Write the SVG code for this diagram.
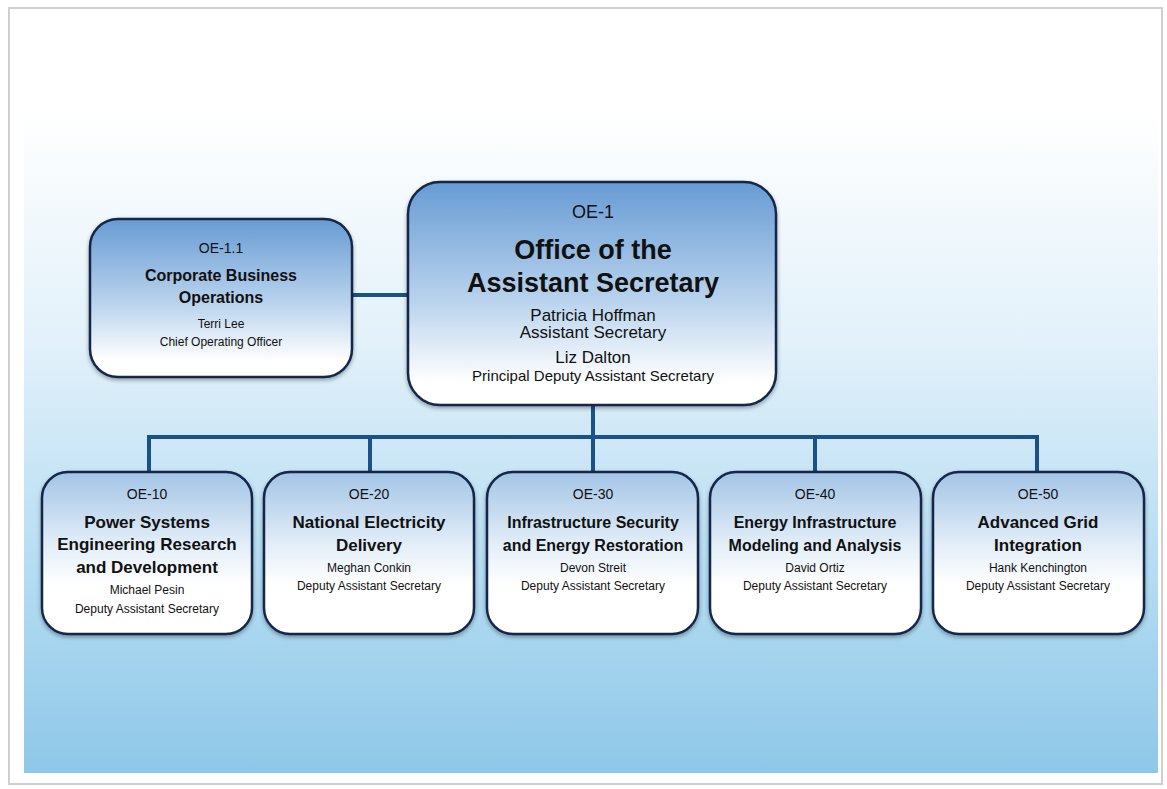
<svg xmlns="http://www.w3.org/2000/svg" width="1167" height="789" viewBox="0 0 1167 789">
<defs>
<linearGradient id="bg" x1="0" y1="0" x2="0" y2="1">
<stop offset="0" stop-color="#ffffff"/>
<stop offset="0.35" stop-color="#e2f1fa"/>
<stop offset="0.7" stop-color="#b4dcf2"/>
<stop offset="1" stop-color="#8ec7e8"/>
</linearGradient>
<linearGradient id="gTop" x1="0" y1="0" x2="0" y2="1">
<stop offset="0" stop-color="#679bd4"/>
<stop offset="0.55" stop-color="#bcd5ee"/>
<stop offset="0.9" stop-color="#ffffff"/>
</linearGradient>
<linearGradient id="gSub" x1="0" y1="0" x2="0" y2="1">
<stop offset="0" stop-color="#a3c4e6"/>
<stop offset="0.45" stop-color="#e3eef8"/>
<stop offset="0.7" stop-color="#ffffff"/>
</linearGradient>
<filter id="sh" x="-10%" y="-10%" width="120%" height="125%">
<feGaussianBlur in="SourceAlpha" stdDeviation="2"/>
<feOffset dx="0" dy="2" result="b"/>
<feComponentTransfer><feFuncA type="linear" slope="0.35"/></feComponentTransfer>
<feMerge><feMergeNode/><feMergeNode in="SourceGraphic"/></feMerge>
</filter>
</defs>
<style>
.box{stroke:#14284a;stroke-width:2.5}
.con{fill:none;stroke:#1b5186;stroke-width:4}
text{font-family:"Liberation Sans",Arial,sans-serif;fill:#111;text-anchor:middle}
.b{font-weight:bold}
</style>
<rect x="0" y="0" width="1167" height="789" fill="#ffffff"/>
<rect x="9" y="8" width="1153" height="776" fill="#ffffff" stroke="#cfcfcf" stroke-width="2"/>
<rect x="24" y="110" width="1134" height="663" fill="url(#bg)"/>
<g id="connectors">
<line class="con" x1="350" y1="295" x2="410" y2="295"/>
<line class="con" x1="593" y1="404" x2="593" y2="437"/>
<polyline class="con" points="149,474 149,437 1037,437 1037,474"/>
<line class="con" x1="370" y1="437" x2="370" y2="474"/>
<line class="con" x1="593" y1="437" x2="593" y2="474"/>
<line class="con" x1="815" y1="437" x2="815" y2="474"/>
</g>
<g id="oe1">
<rect class="box" x="408" y="182" width="368" height="223" rx="32" fill="url(#gTop)" filter="url(#sh)"/>
<text x="593" y="218" font-size="18">OE-1</text>
<text x="593" y="259" font-size="27" class="b">Office of the</text>
<text x="593" y="292" font-size="27" class="b">Assistant Secretary</text>
<text x="593" y="321" font-size="17">Patricia Hoffman</text>
<text x="593" y="338" font-size="17">Assistant Secretary</text>
<text x="593" y="363" font-size="17">Liz Dalton</text>
<text x="593" y="381" font-size="15">Principal Deputy Assistant Secretary</text>
</g>
<g id="oe1-1">
<rect class="box" x="90" y="219" width="262" height="158" rx="28" fill="url(#gTop)" filter="url(#sh)"/>
<text x="221" y="253" font-size="14">OE-1.1</text>
<text x="221" y="281" font-size="16" class="b">Corporate Business</text>
<text x="221" y="303" font-size="16" class="b">Operations</text>
<text x="221" y="328" font-size="12">Terri Lee</text>
<text x="221" y="346" font-size="12">Chief Operating Officer</text>
</g>
<g id="oe10">
<rect class="box" x="42" y="472" width="210" height="162" rx="26" fill="url(#gSub)" filter="url(#sh)"/>
<text x="147" y="499" font-size="14">OE-10</text>
<text x="147" y="528" font-size="17" class="b">Power Systems</text>
<text x="147" y="550" font-size="17" class="b">Engineering Research</text>
<text x="147" y="573" font-size="17" class="b">and Development</text>
<text x="147" y="594" font-size="12">Michael Pesin</text>
<text x="147" y="613" font-size="12">Deputy Assistant Secretary</text>
</g>
<g id="oe20">
<rect class="box" x="264" y="472" width="210" height="162" rx="26" fill="url(#gSub)" filter="url(#sh)"/>
<text x="369" y="499" font-size="14">OE-20</text>
<text x="369" y="528" font-size="17" class="b">National Electricity</text>
<text x="369" y="551" font-size="17" class="b">Delivery</text>
<text x="369" y="572" font-size="12">Meghan Conkin</text>
<text x="369" y="590" font-size="12">Deputy Assistant Secretary</text>
</g>
<g id="oe30">
<rect class="box" x="487" y="472" width="211" height="162" rx="26" fill="url(#gSub)" filter="url(#sh)"/>
<text x="593" y="499" font-size="14">OE-30</text>
<text x="593" y="528" font-size="16" class="b">Infrastructure Security</text>
<text x="593" y="551" font-size="16" class="b">and Energy Restoration</text>
<text x="593" y="572" font-size="12">Devon Streit</text>
<text x="593" y="590" font-size="12">Deputy Assistant Secretary</text>
</g>
<g id="oe40">
<rect class="box" x="710" y="472" width="211" height="162" rx="26" fill="url(#gSub)" filter="url(#sh)"/>
<text x="815" y="499" font-size="14">OE-40</text>
<text x="815" y="528" font-size="16" class="b">Energy Infrastructure</text>
<text x="815" y="551" font-size="16" class="b">Modeling and Analysis</text>
<text x="815" y="572" font-size="12">David Ortiz</text>
<text x="815" y="590" font-size="12">Deputy Assistant Secretary</text>
</g>
<g id="oe50">
<rect class="box" x="933" y="472" width="211" height="162" rx="26" fill="url(#gSub)" filter="url(#sh)"/>
<text x="1038" y="499" font-size="14">OE-50</text>
<text x="1038" y="528" font-size="17" class="b">Advanced Grid</text>
<text x="1038" y="551" font-size="17" class="b">Integration</text>
<text x="1038" y="572" font-size="12">Hank Kenchington</text>
<text x="1038" y="590" font-size="12">Deputy Assistant Secretary</text>
</g>
</svg>
